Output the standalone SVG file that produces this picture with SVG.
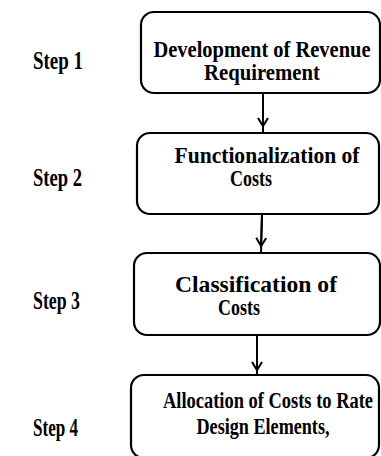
<svg xmlns="http://www.w3.org/2000/svg" width="381" height="456" viewBox="0 0 381 456">
<style>
.box{fill:#fff;stroke:#000;stroke-width:2.2}
.t{font-family:"Liberation Serif","Times New Roman",serif;font-weight:bold;font-size:20.5px;fill:#000}
.c{text-anchor:middle}
.ln{stroke:#000;stroke-width:2;fill:none}
</style>
<defs>
<marker id="ah" markerWidth="14" markerHeight="14" refX="10" refY="6" orient="auto" markerUnits="userSpaceOnUse">
<path d="M2,1 L10,6 L2,11" fill="none" stroke="#000" stroke-width="2"/>
</marker>
</defs>
<rect width="381" height="456" fill="#fff"/>
<g id="labels">
<text class="t" transform="translate(33,69) scale(1,1.2)" textLength="50" lengthAdjust="spacingAndGlyphs">Step 1</text>
<text class="t" transform="translate(33,186) scale(1,1.2)" textLength="49" lengthAdjust="spacingAndGlyphs">Step 2</text>
<text class="t" transform="translate(33,309) scale(1,1.2)" textLength="47" lengthAdjust="spacingAndGlyphs">Step 3</text>
<text class="t" transform="translate(33,436) scale(1,1.2)" textLength="45" lengthAdjust="spacingAndGlyphs">Step 4</text>
</g>
<g id="connectors">
<line class="ln" x1="263" y1="93" x2="263" y2="133"/>
<path class="ln" d="M263,93 L263,126" marker-end="url(#ah)"/>
<line class="ln" x1="262" y1="214" x2="261" y2="253"/>
<path class="ln" d="M262,214 L261,246" marker-end="url(#ah)"/>
<line class="ln" x1="257" y1="335" x2="257" y2="375"/>
<path class="ln" d="M257,335 L257,370" marker-end="url(#ah)"/>
</g>
<g id="node1">
<rect class="box" x="141" y="12" width="239" height="81" rx="13"/>
<text class="t c" transform="translate(262,57) scale(1,1.12)" textLength="217" lengthAdjust="spacingAndGlyphs">Development of Revenue</text>
<text class="t c" transform="translate(262,80) scale(1,1.12)" textLength="116" lengthAdjust="spacingAndGlyphs">Requirement</text>
</g>
<g id="node2">
<rect class="box" x="137" y="133" width="242" height="81" rx="13"/>
<text class="t c" transform="translate(267,163) scale(1,1.12)" textLength="185" lengthAdjust="spacingAndGlyphs">Functionalization of</text>
<text class="t c" transform="translate(251,186) scale(1,1.12)" textLength="42" lengthAdjust="spacingAndGlyphs">Costs</text>
</g>
<g id="node3">
<rect class="box" x="134" y="253" width="246" height="82" rx="13"/>
<text class="t c" transform="translate(256,292) scale(1,1.12)" textLength="162" lengthAdjust="spacingAndGlyphs">Classification of</text>
<text class="t c" transform="translate(239,315) scale(1,1.12)" textLength="42" lengthAdjust="spacingAndGlyphs">Costs</text>
</g>
<g id="node4">
<rect class="box" x="131" y="375" width="248" height="83" rx="13"/>
<text class="t c" style="font-size:18.5px" transform="translate(268,408) scale(1,1.24)" textLength="210" lengthAdjust="spacingAndGlyphs">Allocation of Costs to Rate</text>
<text class="t c" transform="translate(263,434) scale(1,1.12)" textLength="133" lengthAdjust="spacingAndGlyphs">Design Elements,</text>
</g>
</svg>
